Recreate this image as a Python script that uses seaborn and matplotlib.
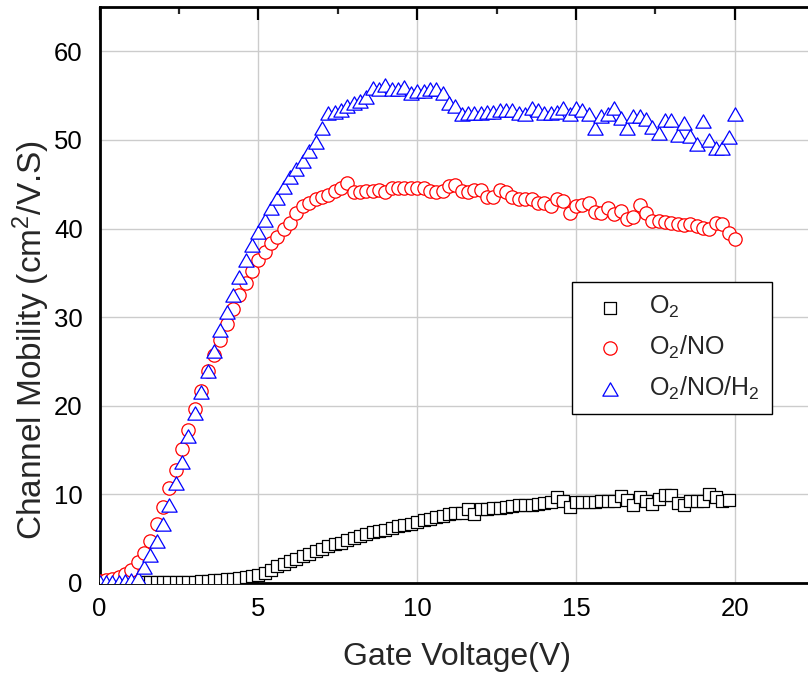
import numpy as np
import pandas as pd
import matplotlib
matplotlib.use("Agg")
import matplotlib.pyplot as plt
from matplotlib.path import Path
from matplotlib.ticker import MultipleLocator
import seaborn as sns

# Gate voltage sweeps (V)
gate_v = np.linspace(0, 20, 101)
gate_v_o2 = np.linspace(0, 19.8, 100)

# Channel mobility (cm^2/V.s) for each gate oxide anneal
mu_o2 = [
    0.1, 0.1, 0.1, 0.1, 0.1, 0.1, 0.1, 0.1, 0.1, 0.1,
    0.1, 0.1, 0.1, 0.1, 0.1, 0.15, 0.2, 0.25, 0.3, 0.35,
    0.4, 0.45, 0.55, 0.66, 0.75, 0.9, 1.15, 1.5, 1.9, 2.2,
    2.45, 2.75, 3.05, 3.3, 3.6, 3.85, 4.15, 4.35, 4.55, 4.8,
    5.05, 5.25, 5.5, 5.7, 5.85, 6.0, 6.2, 6.4, 6.55, 6.7,
    6.9, 7.1, 7.25, 7.45, 7.6, 7.8, 7.9, 7.95, 8.4, 7.8,
    8.3, 8.4, 8.5, 8.5, 8.6, 8.7, 8.75, 8.8, 8.85, 8.9,
    9.0, 9.1, 9.7, 9.2, 8.6, 9.1, 9.1, 9.1, 9.1, 9.2,
    9.2, 9.3, 9.8, 9.4, 8.8, 9.7, 9.3, 8.9, 9.5, 9.9,
    9.9, 9.0, 8.8, 9.2, 9.3, 9.3, 10.0, 9.7, 9.3, 9.4,
]
mu_o2_no = [
    0.2, 0.3, 0.4, 0.7, 1.0, 1.5, 2.4, 3.4, 4.7, 6.7,
    8.6, 10.7, 12.8, 15.1, 17.3, 19.6, 21.7, 23.9, 25.7, 27.4,
    29.2, 30.9, 32.5, 33.8, 35.2, 36.5, 37.4, 38.4, 39.1, 39.9,
    40.6, 41.7, 42.5, 42.9, 43.3, 43.6, 43.8, 44.2, 44.6, 45.1,
    44.1, 44.1, 44.2, 44.2, 44.3, 44.1, 44.6, 44.6, 44.6, 44.6,
    44.6, 44.6, 44.2, 44.1, 44.2, 44.8, 44.9, 44.2, 44.1, 44.4,
    44.4, 43.6, 43.6, 44.4, 44.1, 43.6, 43.3, 43.3, 43.3, 42.9,
    42.9, 42.5, 43.3, 43.1, 41.8, 42.5, 42.7, 42.9, 41.9, 41.8,
    42.3, 41.6, 42.0, 41.1, 41.3, 42.6, 41.8, 40.9, 40.8, 40.7,
    40.6, 40.5, 40.4, 40.5, 40.3, 40.1, 39.9, 40.6, 40.5, 39.5,
    38.8,
]
mu_o2_no_h2 = [
    0.1, 0.1, 0.1, 0.1, 0.2, 0.3, 0.6, 1.8, 3.2, 4.7,
    6.7, 8.8, 11.3, 13.7, 16.6, 19.2, 21.5, 23.9, 26.2, 28.5,
    30.6, 32.5, 34.5, 36.4, 38.1, 39.6, 41.0, 42.3, 43.5, 44.7,
    45.8, 46.7, 47.6, 48.8, 49.8, 51.3, 53.0, 53.2, 53.4, 53.8,
    54.2, 54.4, 54.9, 55.9, 55.7, 56.2, 55.7, 55.7, 56.0, 55.3,
    55.5, 55.5, 55.7, 55.7, 55.3, 54.2, 53.8, 52.9, 53.0, 53.0,
    53.0, 53.2, 53.2, 53.4, 53.4, 53.4, 53.0, 52.9, 53.6, 53.4,
    53.0, 53.0, 53.2, 53.6, 52.9, 53.6, 53.4, 52.9, 51.3, 52.7,
    52.9, 53.6, 52.5, 51.3, 52.7, 52.7, 52.4, 51.5, 50.8, 52.3,
    52.3, 50.6, 51.9, 50.4, 49.5, 52.1, 50.0, 49.1, 49.1, 50.3,
    52.9,
]

series_names = ["O2", "O2/NO", "O2/NO/H2"]
series_labels = [r"$\mathregular{O_2}$", r"$\mathregular{O_2/NO}$",
                 r"$\mathregular{O_2/NO/H_2}$"]

df = pd.concat([
    pd.DataFrame({"gate": gate_v_o2, "mobility": mu_o2, "anneal": series_names[0]}),
    pd.DataFrame({"gate": gate_v, "mobility": mu_o2_no, "anneal": series_names[1]}),
    pd.DataFrame({"gate": gate_v, "mobility": mu_o2_no_h2, "anneal": series_names[2]}),
], ignore_index=True)

sns.set_theme(style="white")
plt.rcParams["font.family"] = ["Liberation Sans", "DejaVu Sans"]
plt.rcParams["mathtext.fontset"] = "custom"
plt.rcParams["mathtext.rm"] = "Liberation Sans"
plt.rcParams["mathtext.it"] = "Liberation Sans:italic"
plt.rcParams["mathtext.bf"] = "Liberation Sans:bold"

fig = plt.figure(figsize=(8.08, 6.77), dpi=100)
ax = fig.add_axes([99.5 / 808, 94 / 677, 714.8 / 808, 576 / 677])

# open triangle, closed outline
tri = Path([(0, 0.87), (-1, -0.87), (1, -0.87), (0, 0.87)], closed=True)
styles = {
    "O2": dict(marker="s", color="black", s=64),
    "O2/NO": dict(marker="o", color="#ff0000", s=92),
    "O2/NO/H2": dict(marker=tri, color="#0000ff", s=121),
}

for name, label in zip(series_names, series_labels):
    st = styles[name]
    sub = df[df["anneal"] == name]
    sns.scatterplot(data=sub, x="gate", y="mobility", ax=ax,
                    marker=st["marker"], s=st["s"], color=st["color"],
                    facecolor="white", edgecolor=st["color"],
                    linewidth=0.9, label=label, clip_on=True, zorder=3)

ax.set_xlim(0, 22.5)
ax.set_ylim(0, 65)
ax.xaxis.set_major_locator(MultipleLocator(5))
ax.xaxis.set_minor_locator(MultipleLocator(2.5))
ax.yaxis.set_major_locator(MultipleLocator(10))
ax.yaxis.set_minor_locator(MultipleLocator(5))

ax.grid(True, which="major", color="#cccccc", linewidth=1.0)
ax.set_axisbelow(True)

for side in ["left", "bottom", "top", "right"]:
    ax.spines[side].set_color("black")
    ax.spines[side].set_linewidth(2.0)

ax.tick_params(which="major", direction="in", length=9.5, width=1.6,
               top=True, right=False, labelsize=18.5, pad=10, colors="black")
ax.tick_params(axis="y", which="major", pad=12)
ax.tick_params(which="minor", direction="in", length=5, width=1.6,
               top=True, right=False)

ax.set_xlabel("Gate Voltage(V)", fontsize=23, labelpad=15)
ax.set_ylabel(r"Channel Mobility (cm$\mathregular{^2}$/V.S)", fontsize=24)
ax.yaxis.set_label_coords(-0.067, 0.422)

leg = ax.legend(loc="upper left", bbox_to_anchor=(0.6606, 0.523),
                fontsize=18, frameon=True, fancybox=False, borderpad=0.5,
                handlelength=2.04, handletextpad=0.54, labelspacing=0.54,
                borderaxespad=0, scatterpoints=1)
leg.get_frame().set_edgecolor("black")
leg.get_frame().set_linewidth(1.0)
leg.get_frame().set_alpha(1.0)

fig.savefig("out.png", dpi=100)
